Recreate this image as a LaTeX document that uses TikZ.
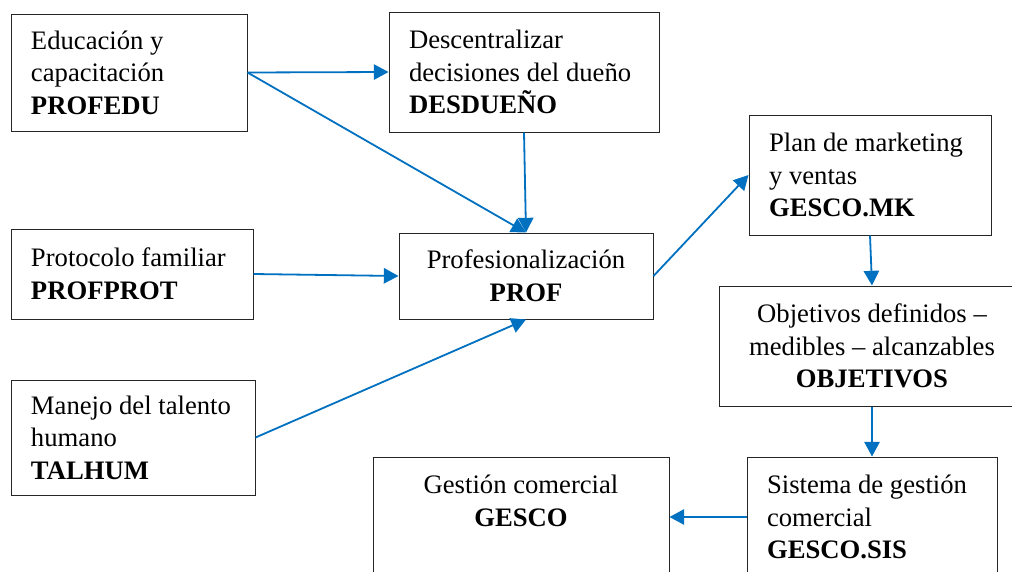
\documentclass[tikz,border=0pt]{standalone}
\usepackage{fontspec}
\setmainfont{Liberation Serif}
\usetikzlibrary{arrows.meta,positioning}
\definecolor{arrowblue}{HTML}{0070C0}
\definecolor{boxline}{HTML}{262626}

\begin{document}
\begin{tikzpicture}[x=0.75pt,y=-0.75pt,
  box/.style={draw=boxline,line width=0.75pt,inner xsep=15pt,inner ysep=0pt,
    minimum height=90pt,font=\fontsize{20}{24.4}\selectfont},
  lbox/.style={box,align=flush left},
  cbox/.style={box,align=center},
  flow/.style={-{Triangle[length=11pt,width=11.5pt]},line width=1.35pt,arrowblue}]
\useasboundingbox (0,0) rectangle (1012,571);

\node[lbox,text width=147pt,minimum height=87.75pt] (profedu) at (129,72.5)
  {Educación y\\capacitación\\\textbf{PROFEDU}};
\node[lbox,text width=172.5pt] (desdueno) at (524,72)
  {Descentralizar\\decisiones del dueño\\\textbf{DESDUEÑO}};
\node[lbox,text width=151.5pt,minimum height=67.5pt] (protocolo) at (132,274)
  {Protocolo familiar\\\textbf{PROFPROT}};
\node[lbox,text width=153pt,minimum height=86.25pt] (talhum) at (133,437.5)
  {Manejo del talento\\humano\\\textbf{TALHUM}};
\node[cbox,minimum width=190.5pt,minimum height=64.5pt] (prof) at (526,276)
  {Profesionalización\\\textbf{PROF}};

\node[lbox,text width=151.5pt] (mk) at (870,175)
  {Plan de marketing\\y ventas\\\textbf{GESCO.MK}};
\node[cbox,minimum width=229.5pt] (objetivos) at (872,346)
  {Objetivos definidos --\\medibles -- alcanzables\\\textbf{OBJETIVOS}};
\node[lbox,text width=157.5pt] (sis) at (872,517)
  {Sistema de gestión\\comercial\\\textbf{GESCO.SIS}};
\node[cbox,minimum width=222pt] (gesco) at (521,517)
  {Gestión comercial\\\textbf{GESCO}\\~};

\draw[flow] (profedu.east) -- (desdueno.west);
\draw[flow] (profedu.east) -- (prof.north);
\draw[flow] (desdueno.south) -- (prof.north);
\draw[flow] (protocolo.east) -- (prof.west);
\draw[flow] (talhum.east) -- (prof.south);
\draw[flow] (prof.east) -- (mk.west);
\draw[flow] (mk.south) -- (objetivos.north);
\draw[flow] (objetivos.south) -- (sis.north);
\draw[flow] (sis.west) -- (gesco.east);
\end{tikzpicture}
\end{document}
